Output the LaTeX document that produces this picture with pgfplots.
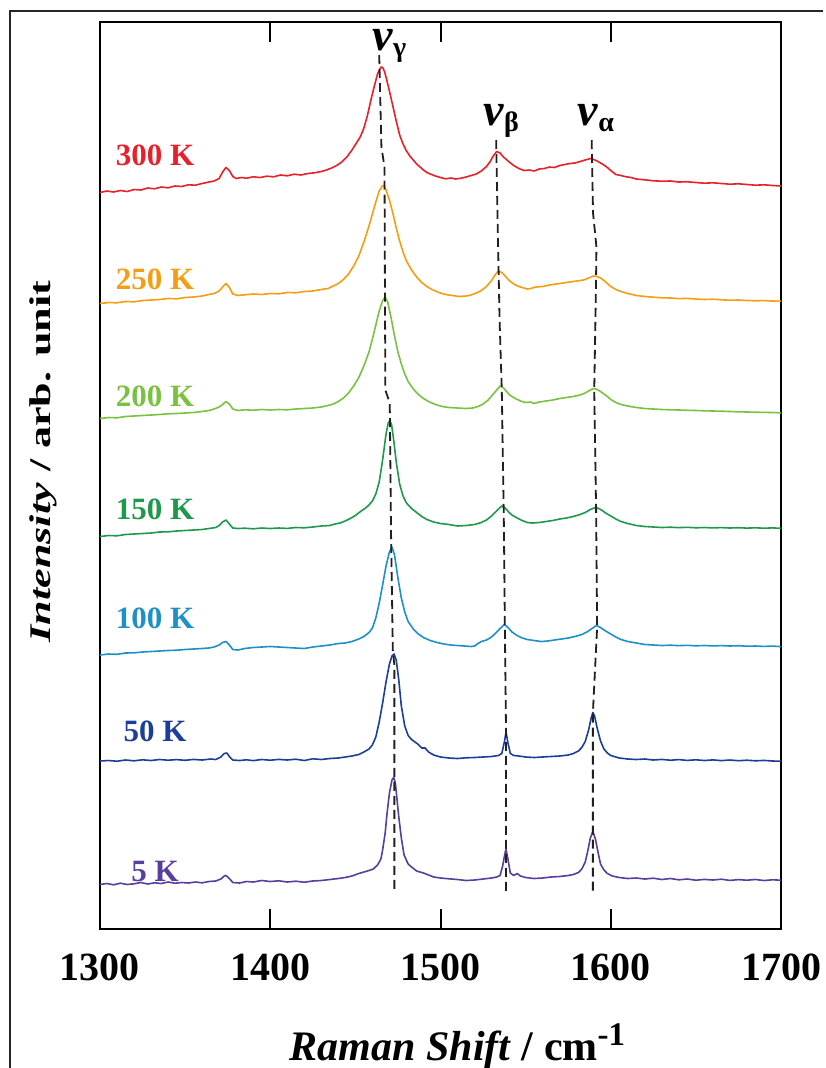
\documentclass[border=0pt]{standalone}
\usepackage{pgfplots}
\pgfplotsset{compat=1.18}
\usepackage{fontspec}
\setmainfont{Liberation Serif}[BoldFont={Liberation Serif Bold}, ItalicFont={Liberation Serif Italic}, BoldItalicFont={Liberation Serif Bold Italic}]
\definecolor{c300}{RGB}{232,32,42}
\definecolor{c250}{RGB}{245,158,20}
\definecolor{c200}{RGB}{122,193,66}
\definecolor{c150}{RGB}{30,152,74}
\definecolor{c100}{RGB}{30,144,200}
\definecolor{c50}{RGB}{28,62,150}
\definecolor{c5}{RGB}{88,62,158}
\definecolor{dashc}{RGB}{35,31,32}
\newcommand{\tlab}{\fontsize{31}{31}\selectfont\bfseries}
\newcommand{\nul}[1]{{\fontsize{46}{46}\selectfont\bfseries\itshape v}\raisebox{-6pt}{\fontsize{28}{28}\selectfont\bfseries #1}}
\begin{document}
\begin{tikzpicture}
\useasboundingbox (-100pt,-139pt) rectangle (726pt,929pt);
\begin{axis}[
  scale only axis, width=681pt, height=907pt,
  at={(0pt,0pt)}, anchor=south west,
  xmin=1300, xmax=1700, ymin=22, ymax=929, y dir=reverse,
  xtick={1300,1400,1500,1600,1700},
  xticklabels={1300,1400,1500,1600,1700},
  xtick pos=both, xticklabel pos=lower, tick align=inside,
  ytick=\empty,
  major tick length=20pt,
  every tick/.style={line width=2pt, black},
  axis line style={line width=2.5pt, black},
  xticklabel style={anchor=base, yshift=-51pt, font=\fontsize{40}{40}\selectfont\bfseries},
  xlabel={\textit{Raman Shift} / cm\raisebox{15pt}{\fontsize{33}{33}\selectfont -1}},
  every axis x label/.style={at={(axis description cs:0.525,0)}, anchor=base, yshift=-131pt, font=\fontsize{42}{42}\selectfont\bfseries},
  ylabel={\scalebox{1.47}[1]{\textit{Intensity} / arb. unit}},
  every axis y label/.style={at={(axis description cs:-0.0724,0.5154)}, rotate=90, anchor=base, font=\fontsize{30}{30}\selectfont\bfseries},
  every axis plot/.append style={line width=1.6pt, line join=round},
]
% 300 K
\addplot[c300] coordinates {(1300,192.5)(1304,191.0)(1308,192.0)(1312,190.5)(1316,191.5)(1320,189.5)(1324,190.0)(1328,188.0)(1332,188.8)(1336,187.0)(1340,187.8)(1344,186.0)(1348,186.5)(1352,184.8)(1356,185.2)(1360,183.5)(1364,182.0)(1367,181.0)(1370,178.5)(1372,172.0)(1374,167.5)(1376,170.5)(1378,176.5)(1380,178.5)(1383,177.5)(1386,178.2)(1390,176.8)(1394,177.5)(1398,176.2)(1402,176.8)(1406,175.0)(1410,175.8)(1414,174.2)(1418,175.0)(1422,173.5)(1426,172.8)(1430,171.5)(1433,170.0)(1436,168.0)(1439,165.5)(1442,162.0)(1445,157.0)(1448,150.0)(1451,142.0)(1453,136.5)(1455,128.0)(1457,116.0)(1459,101.0)(1461,87.0)(1463,74.0)(1465,67.0)(1466,67.5)(1467,71.0)(1468,77.0)(1470,91.0)(1472,106.0)(1474,121.0)(1476,135.0)(1478,144.0)(1480,151.0)(1482,156.0)(1484,160.0)(1486,164.0)(1488,167.0)(1490,170.0)(1492,172.5)(1494,174.0)(1497,176.0)(1500,177.5)(1503,178.8)(1506,178.0)(1509,179.0)(1512,178.2)(1515,177.0)(1518,175.5)(1521,174.0)(1524,171.0)(1527,166.5)(1529,162.0)(1531,156.0)(1533,151.5)(1535,153.0)(1537,157.0)(1540,161.5)(1543,165.5)(1546,168.5)(1549,170.5)(1552,170.0)(1555,171.0)(1558,169.0)(1561,168.5)(1564,167.0)(1567,167.5)(1570,165.5)(1573,164.5)(1576,163.5)(1579,163.0)(1582,161.5)(1585,160.0)(1588,158.5)(1590,159.5)(1592,161.0)(1594,163.0)(1596,165.0)(1598,167.5)(1600,170.5)(1603,174.5)(1606,175.5)(1609,176.8)(1612,177.5)(1615,179.0)(1618,179.5)(1621,180.0)(1625,180.8)(1630,181.2)(1635,181.0)(1640,182.0)(1645,181.8)(1650,182.5)(1655,183.2)(1660,182.8)(1665,183.5)(1670,184.2)(1675,183.8)(1680,184.5)(1685,185.2)(1690,184.8)(1695,185.5)(1700,186.0)};
% 250 K
\addplot[c250] coordinates {(1300,303.5)(1305,302.5)(1310,302.8)(1315,301.5)(1320,301.8)(1325,300.5)(1330,300.0)(1335,299.5)(1340,298.5)(1345,298.8)(1350,297.5)(1355,297.0)(1360,296.0)(1364,294.5)(1367,293.5)(1370,291.0)(1372,287.0)(1374,283.5)(1376,287.5)(1378,294.0)(1381,295.5)(1385,294.8)(1390,294.0)(1395,294.5)(1400,293.5)(1405,293.8)(1410,292.5)(1415,292.8)(1420,291.5)(1425,291.0)(1430,289.5)(1434,288.5)(1437,286.0)(1440,283.5)(1443,279.5)(1446,274.0)(1449,266.0)(1452,256.0)(1455,242.0)(1458,226.0)(1460,214.0)(1462,202.0)(1464,191.0)(1466,185.5)(1467,186.0)(1468,190.0)(1470,200.0)(1472,213.0)(1474,228.0)(1476,241.0)(1478,252.0)(1480,261.0)(1483,270.0)(1486,277.0)(1489,282.5)(1492,286.5)(1495,289.5)(1499,292.5)(1503,294.5)(1507,295.5)(1511,296.5)(1515,296.0)(1518,295.0)(1521,293.0)(1524,290.5)(1527,286.5)(1530,280.5)(1532,275.0)(1534,271.0)(1536,272.5)(1538,276.0)(1540,280.0)(1543,284.0)(1546,286.5)(1549,288.0)(1551,289.0)(1553,288.5)(1556,287.0)(1560,286.5)(1564,285.0)(1568,284.0)(1572,283.0)(1576,282.0)(1580,281.0)(1584,280.0)(1587,278.0)(1590,276.0)(1592,276.5)(1594,278.0)(1596,280.5)(1598,283.5)(1600,286.5)(1603,289.5)(1606,291.5)(1610,293.5)(1615,295.5)(1620,296.5)(1625,297.2)(1630,297.8)(1635,298.0)(1640,298.6)(1645,298.4)(1650,299.0)(1655,299.5)(1660,299.2)(1665,299.8)(1670,300.2)(1675,300.0)(1680,300.5)(1685,300.8)(1690,300.6)(1695,301.0)(1700,301.2)};
% 200 K
\addplot[c200] coordinates {(1300,418.5)(1305,417.5)(1310,417.8)(1315,416.5)(1320,416.0)(1325,415.5)(1330,415.0)(1335,414.5)(1340,413.8)(1345,413.5)(1350,413.0)(1355,412.5)(1360,411.5)(1364,410.5)(1367,409.0)(1370,407.0)(1372,404.5)(1374,401.5)(1376,404.0)(1378,409.0)(1381,410.5)(1385,409.8)(1390,410.2)(1395,409.5)(1400,410.0)(1405,409.5)(1410,409.8)(1415,409.0)(1420,408.5)(1425,408.0)(1430,407.0)(1434,405.5)(1437,404.0)(1440,401.5)(1443,398.0)(1446,393.0)(1449,386.0)(1452,377.5)(1455,366.0)(1458,352.0)(1460,339.0)(1462,325.0)(1464,311.0)(1466,300.5)(1467.5,297.0)(1469,302.0)(1471,318.0)(1473,336.0)(1475,352.0)(1477,364.0)(1479,374.0)(1481,381.5)(1484,389.0)(1487,394.5)(1490,398.5)(1493,401.5)(1497,404.5)(1501,406.5)(1505,407.5)(1510,408.0)(1515,408.5)(1519,408.0)(1522,406.5)(1525,404.0)(1528,400.0)(1531,394.0)(1533,390.0)(1535,386.0)(1537,388.0)(1539,392.0)(1541,395.5)(1544,398.5)(1547,401.0)(1550,402.5)(1553,402.0)(1555,403.5)(1558,402.0)(1562,401.0)(1566,400.0)(1570,398.5)(1574,397.5)(1578,396.5)(1582,395.0)(1585,393.0)(1588,390.0)(1590,388.5)(1592,389.5)(1594,391.5)(1596,394.0)(1598,396.5)(1600,399.5)(1603,402.5)(1606,404.5)(1610,406.0)(1615,407.5)(1620,408.5)(1625,409.0)(1630,409.5)(1635,409.8)(1640,410.0)(1645,410.3)(1650,410.5)(1655,410.8)(1660,411.0)(1665,411.2)(1670,411.5)(1675,411.8)(1680,412.0)(1685,412.2)(1690,412.4)(1695,412.5)(1700,412.8)};
% 150 K
\addplot[c150] coordinates {(1300,536.5)(1305,535.5)(1310,535.8)(1315,534.5)(1320,534.0)(1325,533.5)(1330,533.0)(1335,532.0)(1340,531.8)(1345,531.0)(1350,530.5)(1355,530.0)(1360,529.5)(1364,528.5)(1368,527.5)(1370,525.5)(1372,522.0)(1374,520.0)(1376,524.0)(1378,528.0)(1381,528.5)(1385,528.2)(1390,528.8)(1395,528.0)(1400,528.5)(1405,528.0)(1410,528.4)(1415,527.5)(1420,527.8)(1425,527.0)(1430,526.0)(1435,525.5)(1438,524.0)(1441,523.0)(1444,521.0)(1447,518.5)(1450,515.5)(1453,511.5)(1456,508.0)(1458,505.0)(1460,501.0)(1462,494.0)(1464,482.0)(1466,460.0)(1468,434.0)(1469.3,423.0)(1470.2,420.7)(1471.2,424.0)(1472.5,440.0)(1474,462.0)(1476,484.0)(1478,496.0)(1480,503.0)(1483,508.5)(1486,512.5)(1489,516.5)(1492,519.5)(1496,522.0)(1500,523.5)(1505,524.5)(1510,526.0)(1515,525.5)(1520,524.5)(1524,522.5)(1527,520.0)(1530,516.0)(1532,512.5)(1534,509.0)(1536,506.0)(1538,508.0)(1540,512.0)(1542,515.0)(1545,518.0)(1548,520.5)(1551,522.5)(1554,523.0)(1558,522.5)(1562,521.5)(1566,520.5)(1570,519.0)(1574,518.0)(1578,516.5)(1582,514.5)(1585,512.5)(1588,509.5)(1591,507.5)(1593,508.5)(1595,510.5)(1597,513.0)(1600,516.0)(1603,519.0)(1606,521.5)(1610,523.5)(1615,525.5)(1620,526.5)(1625,527.0)(1630,527.5)(1635,527.2)(1640,527.6)(1645,527.3)(1650,527.8)(1655,527.5)(1660,527.9)(1665,527.6)(1670,528.0)(1675,527.7)(1680,528.1)(1685,527.8)(1690,528.2)(1695,527.9)(1700,528.3)};
% 100 K
\addplot[c100] coordinates {(1300,655.0)(1305,654.0)(1310,654.3)(1315,653.0)(1320,652.8)(1325,652.0)(1330,651.5)(1335,651.0)(1340,650.5)(1345,650.2)(1350,649.5)(1355,649.0)(1360,648.5)(1364,648.0)(1367,647.0)(1370,645.0)(1372,642.5)(1374,641.5)(1376,645.0)(1378,649.5)(1381,650.0)(1385,648.5)(1390,647.5)(1395,647.0)(1400,646.5)(1405,647.0)(1410,647.5)(1415,648.0)(1420,648.5)(1425,647.0)(1430,646.0)(1435,645.0)(1440,643.5)(1444,643.0)(1448,641.5)(1452,639.0)(1455,636.5)(1458,632.5)(1460,628.0)(1462,618.0)(1464,603.0)(1466,585.0)(1468,566.0)(1470,552.0)(1471.5,547.0)(1473,555.0)(1475,578.0)(1477,598.0)(1479,612.0)(1481,621.5)(1484,629.0)(1487,634.0)(1490,637.5)(1494,640.5)(1498,642.5)(1502,644.0)(1506,645.0)(1510,645.5)(1514,646.0)(1518,646.5)(1520,646.0)(1522,643.5)(1524,641.5)(1527,640.0)(1530,637.0)(1533,632.0)(1535,628.5)(1537.5,624.5)(1540,628.0)(1542,632.0)(1545,635.5)(1548,638.0)(1551,639.5)(1555,640.5)(1559,641.5)(1563,641.0)(1567,640.0)(1571,639.0)(1575,638.0)(1579,636.5)(1583,634.5)(1586,632.0)(1589,628.5)(1591.5,625.5)(1594,627.5)(1597,631.0)(1600,634.0)(1603,637.0)(1606,639.5)(1610,641.5)(1615,643.0)(1620,644.5)(1625,645.0)(1630,645.5)(1635,645.2)(1640,645.6)(1645,645.3)(1650,645.8)(1655,645.5)(1660,645.9)(1665,645.6)(1670,646.0)(1675,645.7)(1680,646.2)(1685,646.0)(1690,646.4)(1695,646.1)(1700,646.6)};
% 50 K
\addplot[c50] coordinates {(1300,761.0)(1305,760.5)(1310,761.2)(1315,760.0)(1320,760.8)(1325,759.8)(1330,760.5)(1335,759.5)(1340,760.2)(1345,759.6)(1350,760.3)(1355,759.4)(1360,760.0)(1365,759.0)(1368,759.5)(1371,757.0)(1373,753.5)(1374.5,753.0)(1376,756.5)(1378,760.0)(1382,760.5)(1386,759.8)(1390,760.6)(1395,759.5)(1400,760.2)(1405,759.4)(1410,760.0)(1415,759.2)(1420,760.5)(1425,758.8)(1430,759.5)(1435,758.5)(1440,758.0)(1444,757.0)(1448,756.0)(1452,754.5)(1455,752.0)(1458,749.0)(1460,745.0)(1462,737.0)(1464,722.0)(1466,703.0)(1468,682.0)(1470,664.0)(1471.5,656.0)(1472.7,654.0)(1474,660.0)(1475.5,680.0)(1477,706.0)(1479,726.0)(1481,735.5)(1483,739.5)(1485,742.0)(1487,744.5)(1489,748.0)(1491,748.0)(1493,752.0)(1496,755.0)(1500,757.0)(1505,758.0)(1510,758.5)(1515,757.8)(1520,757.5)(1525,757.0)(1530,756.5)(1534,755.5)(1536,753.5)(1537.5,742.0)(1538.5,732.0)(1539.5,742.0)(1541,753.5)(1543,755.5)(1546,756.0)(1550,757.0)(1555,757.5)(1560,757.0)(1565,756.5)(1570,756.0)(1575,755.0)(1578,753.5)(1581,751.0)(1583,747.5)(1585,741.5)(1587,730.0)(1588.5,718.0)(1589.5,712.5)(1590.5,716.0)(1592,728.0)(1594,741.0)(1596,749.0)(1598,753.0)(1600,755.5)(1605,758.0)(1610,759.0)(1615,759.5)(1620,759.0)(1625,760.0)(1630,759.4)(1635,760.2)(1640,759.6)(1645,760.4)(1650,759.8)(1655,760.5)(1660,759.9)(1665,760.6)(1670,760.0)(1675,760.7)(1680,760.2)(1685,760.8)(1690,760.4)(1695,761.0)(1700,761.2)};
% 5 K
\addplot[c5] coordinates {(1300,884.5)(1304,883.5)(1308,884.8)(1312,883.2)(1316,884.5)(1320,883.8)(1324,882.5)(1328,884.0)(1332,882.8)(1336,883.5)(1340,882.0)(1344,883.2)(1348,882.5)(1352,883.0)(1356,882.0)(1360,882.8)(1364,881.5)(1368,881.0)(1371,879.0)(1373,876.0)(1374,875.5)(1376,878.5)(1378,882.5)(1382,883.0)(1386,881.5)(1390,882.0)(1395,880.5)(1400,881.5)(1405,880.8)(1410,882.0)(1415,881.2)(1420,882.2)(1425,881.0)(1430,880.5)(1435,879.5)(1440,878.5)(1444,877.5)(1448,876.0)(1452,873.5)(1455,872.0)(1458,870.5)(1460.5,869.0)(1463,865.0)(1465,859.0)(1466,850.0)(1467.5,833.0)(1468.5,815.0)(1470,793.0)(1471.5,780.0)(1472.5,777.5)(1473.5,783.0)(1474.5,800.0)(1475.5,817.0)(1477,838.0)(1478.6,855.0)(1481,864.0)(1483,867.0)(1486,871.0)(1490,873.0)(1493,875.0)(1496,877.0)(1500,878.0)(1505,878.8)(1510,879.5)(1515,880.5)(1520,880.0)(1525,879.0)(1530,878.0)(1533,877.0)(1535,875.5)(1536.5,866.0)(1538,852.0)(1538.5,849.5)(1539.5,858.0)(1541,873.0)(1543,875.5)(1545,873.5)(1547,876.0)(1550,877.5)(1555,878.5)(1560,878.0)(1565,877.0)(1570,876.5)(1575,875.5)(1578,874.5)(1581,872.5)(1583,869.0)(1585,862.0)(1586.5,851.0)(1588,838.0)(1589.5,831.5)(1591,839.0)(1592.5,852.0)(1594,864.0)(1596,870.0)(1598,873.5)(1601,876.0)(1605,877.5)(1610,878.5)(1615,878.0)(1620,879.0)(1625,878.2)(1630,879.5)(1635,878.5)(1640,879.8)(1645,879.0)(1650,880.2)(1655,879.4)(1660,880.0)(1665,879.2)(1670,880.4)(1675,879.6)(1680,880.2)(1685,879.5)(1690,880.5)(1695,879.8)(1700,880.2)};
% dashed peak guides
\addplot[dashc, line width=1.8pt, dash pattern=on 9pt off 5pt] coordinates {(1464,55)(1465.3,147)(1467.1,167)(1467.6,390)(1470.2,403)(1471,540)(1472,650)(1472.9,665)(1472.9,893)};
\addplot[dashc, line width=1.8pt, dash pattern=on 9pt off 5pt] coordinates {(1532.7,140)(1533.3,200)(1534.7,320)(1536,390)(1537.2,520)(1537.8,627)(1538.5,733)(1538.5,892)};
\addplot[dashc, line width=1.8pt, dash pattern=on 9pt off 5pt] coordinates {(1588.8,140)(1589.6,213)(1591.6,247)(1591.2,300)(1590.3,390)(1591.4,510)(1592,627)(1589.5,713)(1589.5,892)};
% labels
\node[text=c300, font=\tlab] at (axis cs:1332.4,155.7) {300 K};
\node[text=c250, font=\tlab] at (axis cs:1332.4,279.3) {250 K};
\node[text=c200, font=\tlab] at (axis cs:1332.4,396) {200 K};
\node[text=c150, font=\tlab] at (axis cs:1332.4,509.3) {150 K};
\node[text=c100, font=\tlab] at (axis cs:1332.4,618.3) {100 K};
\node[text=c50, font=\tlab] at (axis cs:1332.4,731.7) {50 K};
\node[text=c5, font=\tlab] at (axis cs:1332.4,871.7) {5 K};
\node[anchor=base west, inner sep=0pt] at (axis cs:1460,50) {\nul{γ}};
\node[anchor=base west, inner sep=0pt] at (axis cs:1525.3,125) {\nul{β}};
\node[anchor=base west, inner sep=0pt] at (axis cs:1580.6,125) {\nul{α}};
\end{axis}
\draw[line width=1.2pt, black!85] (-90pt,-139pt) -- (-90pt,918pt) -- (723pt,918pt);
\end{tikzpicture}
\end{document}
